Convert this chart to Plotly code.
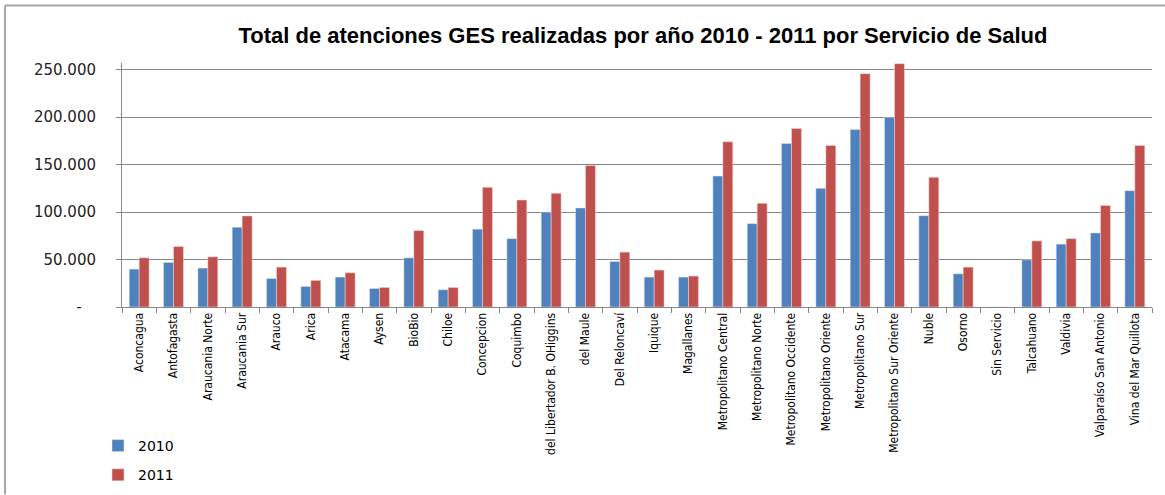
import plotly.graph_objects as go

categories = ["Aconcagua", "Antofagasta", "Araucania Norte", "Araucania Sur", "Arauco", "Arica",
              "Atacama", "Aysen", "BioBio", "Chiloe", "Concepcion", "Coquimbo",
              "del Libertador B. OHiggins", "del Maule", "Del Reloncaví", "Iquique", "Magallanes",
              "Metropolitano Central", "Metropolitano Norte", "Metropolitano Occidente",
              "Metropolitano Oriente", "Metropolitano Sur", "Metropolitano Sur Oriente", "Nuble",
              "Osorno", "Sin Servicio", "Talcahuano", "Valdivia", "Valparaíso San Antonio",
              "Vina del Mar Quillota"]

values_2010 = [39900, 46900, 41000, 84000, 30000, 21600, 31500, 19500, 51800, 18200, 82000, 72000,
               100000, 104300, 47900, 31500, 31500, 137900, 87800, 172300, 125000, 187000,
               199900, 96200, 35000, 0, 49700, 66200, 78000, 122500]
values_2011 = [51800, 63700, 52800, 95900, 42000, 28000, 36000, 20600, 80500, 20600, 126000, 112700,
               119700, 149000, 57800, 38900, 32600, 174000, 109200, 188000, 170200, 245800,
               256300, 136600, 42000, 0, 69600, 72000, 107000, 170200]

y_tickvals = [0, 50000, 100000, 150000, 200000, 250000]
y_ticktext = ["-\u2007\u00a0", "50.000", "100.000", "150.000", "200.000", "250.000"]

fig = go.Figure()
fig.add_trace(go.Bar(name="2010", x=categories, y=values_2010, legendgroup="a",
                     marker=dict(color="#4F81BD", line=dict(color="#dce6f2", width=0.5))))
fig.add_trace(go.Bar(name="2011", x=categories, y=values_2011, legendgroup="b",
                     marker=dict(color="#C0504D", line=dict(color="#f2dcdb", width=0.5))))

L, R, T, B = 122, 13, 62.6, 187.7
W, H = 1165, 495
pw = W - L - R
ph = H - T - B

def px_x(x):
    return (x - L) / pw

def px_y(y):
    return (H - B - y) / ph

fig.update_layout(
    width=W, height=H,
    margin=dict(l=L, r=R, t=T, b=B, autoexpand=False),
    paper_bgcolor="white", plot_bgcolor="white",
    barmode="group", bargap=0.42, bargroupgap=0,
    title=dict(text="<b>Total de atenciones GES realizadas por año 2010 - 2011 por Servicio de Salud</b>",
               x=(236 + 1050) / 2 / W, xanchor="center", y=1 - 35 / H, yanchor="middle",
               font=dict(family="Liberation Sans, Arial", size=22, color="black")),
    legend=dict(xref="container", yref="container", x=98 / W, xanchor="left",
                y=1 - 430 / H, yanchor="top",
                orientation="v", font=dict(family="DejaVu Sans, Verdana", size=14, color="black"),
                bgcolor="rgba(0,0,0,0)", itemwidth=30, tracegroupgap=8),
    font=dict(family="DejaVu Sans", color="black"),
    xaxis=dict(tickangle=-90, tickfont=dict(family="Liberation Sans Narrow, DejaVu Sans Condensed", size=12, color="black"),
               ticks="outside", tickson="boundaries", ticklen=5, tickcolor="#868686",
               showline=True, linecolor="#868686", linewidth=1, showgrid=False),
    yaxis=dict(range=[0, 257000], tickvals=y_tickvals, ticktext=y_ticktext,
               tickfont=dict(family="DejaVu Sans, Verdana", size=15, color="#222"),
               ticks="outside", ticklen=5, tickcolor="#868686", ticklabelstandoff=17,
               showline=True, linecolor="#868686", linewidth=1,
               showgrid=True, gridcolor="#868686", gridwidth=1, zeroline=False),
    shapes=[
        dict(type="line", xref="paper", yref="paper", x0=px_x(5), x1=px_x(1165), y0=px_y(5), y1=px_y(5),
             line=dict(color="#a6a6a6", width=2)),
        dict(type="line", xref="paper", yref="paper", x0=px_x(5), x1=px_x(5), y0=px_y(5), y1=px_y(495),
             line=dict(color="#a6a6a6", width=2)),
    ],
)

fig.write_html("out.html", config={"displayModeBar": False},
               post_script="document.body.style.margin='0px';")
